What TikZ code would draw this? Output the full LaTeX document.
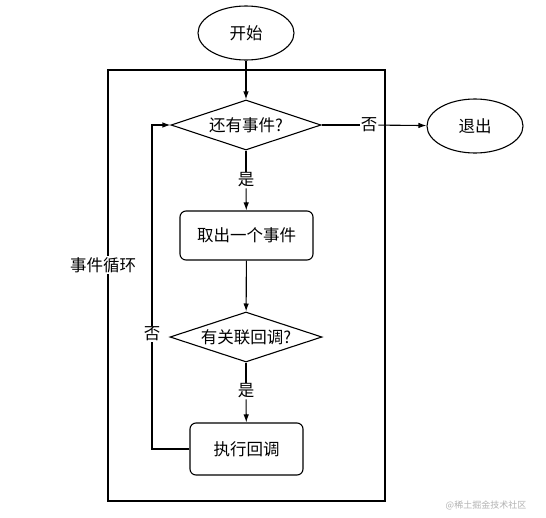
\documentclass[tikz,border=0pt]{standalone}
\usepackage{fontspec}
\setmainfont{Noto Sans CJK SC}
\usetikzlibrary{shapes.geometric,arrows.meta}
\begin{document}
\begin{tikzpicture}[x=1pt,y=-1pt,
  every node/.style={font=\fontsize{16.5}{19}\selectfont},
  term/.style={draw,ellipse,minimum width=96pt,minimum height=54pt,line width=1.1pt},
  decide/.style={draw,diamond,aspect=3,minimum width=150pt,minimum height=50pt,inner sep=0pt,line width=1.1pt},
  proc/.style={draw,rounded corners=6pt,line width=1.1pt},
  lab/.style={fill=white,inner sep=1pt},
  conn/.style={line width=1.1pt},
  arr/.style={line width=1.1pt,-{Latex[length=8pt,width=5.5pt]}}]
\useasboundingbox (0,0) rectangle (546,517);
\node[draw,line width=1.1pt,minimum width=277pt,minimum height=431pt,inner sep=0pt] (loop) at (246.5,285.5) {};
\node[term] (start) at (246,33) {开始};
\node[decide] (d1) at (246,125) {还有事件?};
\node[term] (exit) at (475,126) {退出};
\node[proc,minimum width=133pt,minimum height=49pt] (p1) at (246.5,235.5) {取出一个事件};
\node[decide,minimum width=152pt] (d2) at (246,337) {有关联回调?};
\node[proc,minimum width=113pt,minimum height=52pt] (p2) at (246.5,449) {执行回调};
\node[lab] (loopl) at (103,265) {事件循环};
\node[lab] (no1) at (369,125) {否};
\node[lab] (yes1) at (246,180) {是};
\node[lab] (yes2) at (246,391) {是};
\coordinate (c1) at (152,449);
\coordinate (c2) at (152,125);
\node[lab] (no2) at (152,334) {否};
\draw[arr] (start) -- (d1);
\draw[conn] (d1) -- (no1);
\draw[arr] (no1) -- (exit);
\draw[conn] (d1) -- (yes1);
\draw[arr] (yes1) -- (p1);
\draw[arr] (p1) -- (d2);
\draw[conn] (d2) -- (yes2);
\draw[arr] (yes2) -- (p2);
\draw[conn] (p2.west) -- (c1) -- (no2);
\draw[arr] (no2) -- (c2) -- (d1.west);
\node[text=gray!60,font=\fontsize{9}{11}\selectfont] (wm) at (486,505) {@稀土掘金技术社区};
\end{tikzpicture}
\end{document}
